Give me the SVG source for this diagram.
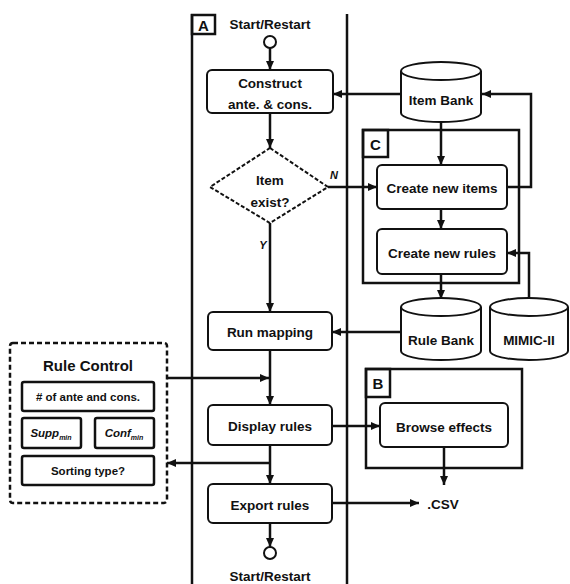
<svg xmlns="http://www.w3.org/2000/svg" width="570" height="584" viewBox="0 0 570 584">
<defs>
<style>
text{font-family:"Liberation Sans",Arial,sans-serif;font-weight:bold;fill:#111;text-anchor:middle;dominant-baseline:central}
.t{font-size:13.5px}
.s{font-size:11.5px}
.box{fill:#fff;stroke:#111;stroke-width:2}
.frame{fill:none;stroke:#111;stroke-width:2.5}
.lane{fill:none;stroke:#111;stroke-width:2.5}
.c{fill:none;stroke:#111;stroke-width:2.5}
.ca{fill:none;stroke:#111;stroke-width:2.5;marker-end:url(#ah)}
.cyl{fill:#fff;stroke:#111;stroke-width:2}
</style>
<marker id="ah" markerUnits="userSpaceOnUse" markerWidth="10" markerHeight="10" refX="9" refY="5" orient="auto">
<path d="M0,1 L9,5 L0,9 z" fill="#111"/>
</marker>
</defs>
<rect width="570" height="584" fill="#fff"/>

<g id="lanes">
<line class="lane" x1="192" y1="14" x2="192" y2="584"/>
<line class="lane" x1="347" y1="14" x2="347" y2="584"/>
<rect class="frame" x="192" y="15" width="23" height="19"/>
<text x="203.5" y="25" style="font-size:15px">A</text>
</g>

<g id="frameC">
<rect class="frame" x="363" y="130" width="156" height="153"/>
<rect class="frame" x="363" y="130" width="25" height="27"/>
<text x="375.5" y="144" style="font-size:15px">C</text>
</g>

<g id="frameB">
<rect class="frame" x="366" y="369" width="156" height="99"/>
<rect class="frame" x="366" y="369" width="24" height="28"/>
<text x="378" y="383" style="font-size:15px">B</text>
</g>

<g id="connectors">
<line class="ca" x1="270" y1="48" x2="270" y2="70"/>
<line class="ca" x1="270" y1="113" x2="270" y2="148"/>
<line class="ca" x1="401" y1="94" x2="333" y2="94"/>
<line class="ca" x1="328" y1="187" x2="377" y2="187"/>
<line class="ca" x1="441" y1="122" x2="441" y2="165"/>
<polyline class="ca" points="507,187 531,187 531,94 482,94"/>
<line class="ca" x1="441" y1="209" x2="441" y2="229"/>
<polyline class="ca" points="529,298 529,253 507,253"/>
<line class="ca" x1="441" y1="274" x2="441" y2="299"/>
<line class="ca" x1="270" y1="223" x2="270" y2="312"/>
<line class="ca" x1="401" y1="332" x2="332" y2="332"/>
<line class="ca" x1="270" y1="350" x2="270" y2="405"/>
<line class="ca" x1="167" y1="378" x2="269" y2="378"/>
<line class="ca" x1="332" y1="426" x2="380" y2="426"/>
<line class="ca" x1="270" y1="445" x2="270" y2="484"/>
<line class="ca" x1="269" y1="463" x2="167" y2="463"/>
<line class="ca" x1="444" y1="447" x2="444" y2="485"/>
<line class="ca" x1="332" y1="503" x2="419" y2="503"/>
<line class="ca" x1="270" y1="523" x2="270" y2="547"/>
</g>

<g id="start-top">
<text class="t" x="270" y="24">Start/Restart</text>
<circle cx="270" cy="42" r="6" fill="#fff" stroke="#111" stroke-width="2"/>
</g>

<g id="construct">
<rect class="box" x="207" y="70" width="126" height="43" rx="5"/>
<text class="t" x="270" y="83">Construct</text>
<text class="t" x="270" y="104">ante. &amp; cons.</text>
</g>

<g id="item-exist">
<polygon points="270,148 328,187 270,223 210,187" fill="#fff" stroke="#111" stroke-width="2" stroke-dasharray="4 2"/>
<text class="t" x="270" y="180">Item</text>
<text class="t" x="270" y="202">exist?</text>
<text x="334" y="175" style="font-size:11px;font-style:italic">N</text>
<text x="263" y="245" style="font-size:11px;font-style:italic">Y</text>
</g>

<g id="item-bank">
<path class="cyl" d="M401,71 L401,113 A40,9 0 0 0 481,113 L481,71"/>
<ellipse class="cyl" cx="441" cy="71" rx="40" ry="9"/>
<text class="t" x="441" y="100">Item Bank</text>
</g>

<g id="create-items">
<rect class="box" x="377" y="165" width="130" height="44" rx="5"/>
<text class="t" x="442" y="188">Create new items</text>
</g>

<g id="create-rules">
<rect class="box" x="377" y="229" width="130" height="45" rx="5"/>
<text class="t" x="442" y="253">Create new rules</text>
</g>

<g id="rule-bank">
<path class="cyl" d="M401,307 L401,351 A40,9 0 0 0 481,351 L481,307"/>
<ellipse class="cyl" cx="441" cy="307" rx="40" ry="9"/>
<text class="t" x="441" y="340">Rule Bank</text>
</g>

<g id="mimic">
<path class="cyl" d="M490,307 L490,351 A39,9 0 0 0 568,351 L568,307"/>
<ellipse class="cyl" cx="529" cy="307" rx="39" ry="9"/>
<text class="t" x="529" y="340">MIMIC-II</text>
</g>

<g id="run-mapping">
<rect class="box" x="208" y="312" width="124" height="38" rx="5"/>
<text class="t" x="270" y="332">Run mapping</text>
</g>

<g id="rule-control">
<rect x="10" y="343" width="157" height="160" rx="3" fill="#fff" stroke="#111" stroke-width="2.5" stroke-dasharray="5 3"/>
<text x="88" y="365" style="font-size:15px">Rule Control</text>
<rect class="box" x="22" y="382" width="132" height="29" rx="2" style="stroke-width:2.5"/>
<text class="s" x="88" y="397"># of ante and cons.</text>
<rect class="box" x="22" y="418" width="59" height="30" rx="2" style="stroke-width:2.5"/>
<text class="s" x="51" y="433" style="font-style:italic">Supp<tspan dy="4" style="font-size:7px">min</tspan></text>
<rect class="box" x="95" y="418" width="59" height="30" rx="2" style="stroke-width:2.5"/>
<text class="s" x="124" y="433" style="font-style:italic">Conf<tspan dy="4" style="font-size:7px">min</tspan></text>
<rect class="box" x="22" y="456" width="132" height="29" rx="2" style="stroke-width:2.5"/>
<text class="s" x="88" y="471">Sorting type?</text>
</g>

<g id="display-rules">
<rect class="box" x="208" y="405" width="124" height="40" rx="5"/>
<text class="t" x="270" y="426">Display rules</text>
</g>

<g id="browse-effects">
<rect class="box" x="380" y="403" width="128" height="44" rx="5"/>
<text class="t" x="444" y="427">Browse effects</text>
</g>

<g id="export-rules">
<rect class="box" x="208" y="484" width="124" height="39" rx="5"/>
<text class="t" x="270" y="505">Export rules</text>
</g>

<g id="csv">
<text class="t" x="443" y="504">.CSV</text>
</g>

<g id="start-bottom">
<circle cx="270" cy="553" r="6" fill="#fff" stroke="#111" stroke-width="2"/>
<text class="t" x="270" y="576">Start/Restart</text>
</g>
</svg>
